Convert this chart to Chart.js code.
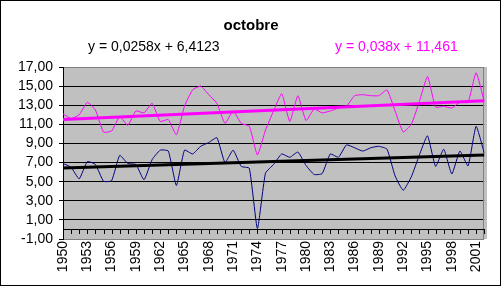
<!DOCTYPE html>
<html>
<head>
<meta charset="utf-8">
<title>octobre</title>
<script src="https://cdn.jsdelivr.net/npm/chart.js@4.4.1/dist/chart.umd.min.js"></script>
<style>
  body { margin: 0; background: #fff; }
  #wrap { position: relative; width: 503px; height: 287px; }
  #frame { position: absolute; left: 0; top: 0; width: 499px; height: 284px; border: 1px solid #000; }
  #plotBg { position: absolute; left: 63px; top: 67px; width: 424px; height: 172px; background: #C0C0C0; }
  canvas { position: absolute; left: 0; top: 0; display: block; }
</style>
</head>
<body>
<div id="wrap">
  <div id="frame"></div>
  <div id="plotBg"></div>
  <canvas id="chart" width="503" height="287"></canvas>
</div>
<script>
// categories
const years = ["1950","1951","1952","1953","1954","1955","1956","1957","1958","1959",
  "1960","1961","1962","1963","1964","1965","1966","1967","1968","1969",
  "1970","1971","1972","1973","1974","1975","1976","1977","1978","1979",
  "1980","1981","1982","1983","1984","1985","1986","1987","1988","1989",
  "1990","1991","1992","1993","1994","1995","1996","1997","1998","1999",
  "2000","2001","2002"];

// october values, magenta series
const octPink = [12.1, 11.6, 12.0, 13.3, 12.5, 10.2, 10.3, 11.8, 10.9, 12.4,
  12.2, 13.2, 11.3, 11.5, 9.9, 12.9, 14.6, 15.0, 14.1, 13.2,
  11.1, 12.4, 11.1, 10.8, 7.8, 10.4, 12.4, 14.2, 11.3, 14.0,
  11.4, 12.6, 12.2, 12.4, 12.7, 12.9, 14.0, 14.1, 14.0, 14.0,
  14.6, 12.4, 10.2, 11.0, 13.4, 16.0, 12.8, 12.9, 12.7, 13.3,
  13.3, 16.4, 13.4];

// october values, navy series
const octBlue = [6.9, 6.5, 5.3, 7.1, 6.8, 5.05, 5.1, 7.75, 6.9, 6.8,
  5.2, 7.3, 8.3, 8.2, 4.6, 8.3, 7.9, 8.7, 9.1, 9.6,
  7.0, 8.3, 6.6, 6.4, 0.1, 5.9, 6.8, 7.9, 7.55, 8.1,
  6.7, 5.75, 5.85, 7.9, 7.55, 8.85, 8.55, 8.2, 8.55, 8.7,
  8.4, 5.6, 4.1, 5.5, 7.8, 9.8, 6.6, 8.4, 5.8, 8.2,
  6.65, 10.8, 8.0];

// trendline end values (first year, last year)
const trendPink = [11.50, 13.48];
const trendBlue = [6.44, 7.78];

// tick labels and texts
const yTicks = [-1, 1, 3, 5, 7, 9, 11, 13, 15, 17];
const eqBlue = "y = 0,0258x + 6,4123";
const eqPink = "y = 0,038x + 11,461";

const FONT = "'Liberation Sans', Arial, sans-serif";
Chart.defaults.font.family = FONT;
Chart.defaults.color = "#000";

// line from first to last category only
function ends(pair) {
  return years.map((_, i) => i === 0 ? pair[0] : (i === years.length - 1 ? pair[1] : null));
}

const excelLook = {
  id: "excelLook",
  beforeDatasetsDraw(chart) {
    const { ctx, chartArea: a, scales } = chart;
    const ys = scales.y;
    const top = Math.round(ys.getPixelForValue(17));
    const bot = Math.round(ys.getPixelForValue(-1));
    const left = Math.round(a.left);
    const right = Math.round(a.right);
    ctx.save();
    // grey right side of the plot frame
    ctx.fillStyle = "#808080";
    ctx.fillRect(right - 1, top, 1, bot - top);
    // category axis crossing at 0, with a tick per year
    const y0 = Math.round(ys.getPixelForValue(0));
    ctx.fillStyle = "#000";
    ctx.fillRect(left, y0, right - left, 1);
    years.forEach((_, i) => {
      ctx.fillRect(Math.round(scales.x.getPixelForValue(i)), y0, 1, 5);
    });
    ctx.restore();
  },
  afterDraw(chart) {
    const ctx = chart.ctx;
    ctx.save();
    ctx.textBaseline = "middle";
    ctx.textAlign = "center";
    ctx.fillStyle = "#000";
    ctx.font = "bold 15px " + FONT;
    ctx.fillText("octobre", 251, 26);
    ctx.textAlign = "left";
    ctx.font = "14px " + FONT;
    ctx.fillText(eqBlue, 88, 47);
    ctx.fillStyle = "#FF00FF";
    ctx.fillText(eqPink, 335, 47);
    ctx.restore();
  }
};

new Chart(document.getElementById("chart"), {
  type: "line",
  data: {
    labels: years,
    datasets: [
      { data: ends(trendPink), borderColor: "#FF00FF", borderWidth: 3, spanGaps: true, tension: 0, order: 0 },
      { data: ends(trendBlue), borderColor: "#000000", borderWidth: 3, spanGaps: true, tension: 0, order: 0 },
      { data: octPink, borderColor: "#FF00FF", borderWidth: 1, tension: 0.15, order: 1 },
      { data: octBlue, borderColor: "#000080", borderWidth: 1, tension: 0.15, order: 1 }
    ]
  },
  options: {
    responsive: false,
    animation: false,
    devicePixelRatio: 1,
    layout: { padding: { top: 67, right: 16, bottom: 8, left: 0 } },
    elements: { point: { radius: 0 } },
    plugins: { legend: { display: false }, tooltip: { enabled: false }, title: { display: false } },
    scales: {
      x: {
        type: "category",
        grid: { display: false, drawTicks: false, tickLength: 0 },
        border: { display: false },
        afterFit: (s) => { s.height = 40; },
        ticks: {
          autoSkip: false,
          minRotation: 90,
          maxRotation: 90,
          padding: 2,
          font: { size: 14 },
          callback: function (v, i) { return i % 3 === 0 ? this.getLabelForValue(v) : ""; }
        }
      },
      y: {
        min: -1,
        max: 17,
        afterBuildTicks: (s) => { s.ticks = yTicks.map(v => ({ value: v })); },
        afterFit: (s) => { s.width = 63; },
        grid: {
          color: (c) => (c.tick && (c.tick.value === 17 || c.tick.value === -1)) ? "#808080" : "#000",
          tickColor: "#000",
          tickLength: 4,
          lineWidth: 1
        },
        border: { display: true, color: "#000", width: 1 },
        ticks: {
          autoSkip: false,
          padding: 6,
          font: { size: 14 },
          callback: (v) => v.toFixed(2).replace(".", ",")
        }
      }
    }
  },
  plugins: [excelLook]
});
</script>
</body>
</html>
